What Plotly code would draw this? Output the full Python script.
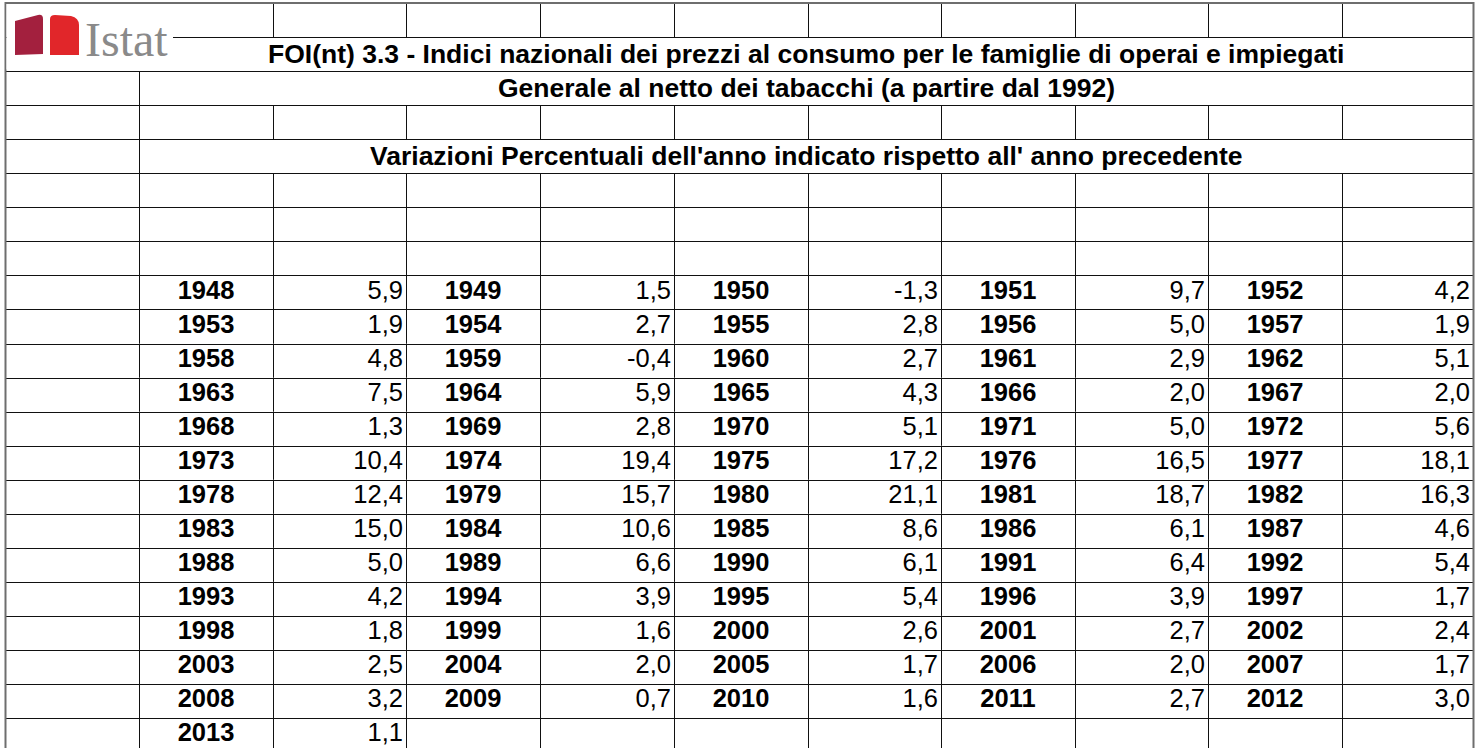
import plotly.graph_objects as go

# ---------------- data ----------------
years = list(range(1948, 2014))
values = [
    5.9, 1.5, -1.3, 9.7, 4.2,
    1.9, 2.7, 2.8, 5.0, 1.9,
    4.8, -0.4, 2.7, 2.9, 5.1,
    7.5, 5.9, 4.3, 2.0, 2.0,
    1.3, 2.8, 5.1, 5.0, 5.6,
    10.4, 19.4, 17.2, 16.5, 18.1,
    12.4, 15.7, 21.1, 18.7, 16.3,
    15.0, 10.6, 8.6, 6.1, 4.6,
    5.0, 6.6, 6.1, 6.4, 5.4,
    4.2, 3.9, 5.4, 3.9, 1.7,
    1.8, 1.6, 2.6, 2.7, 2.4,
    2.5, 2.0, 1.7, 2.0, 1.7,
    3.2, 0.7, 1.6, 2.7, 3.0,
    1.1,
]
title1 = "FOI(nt) 3.3 - Indici nazionali dei prezzi al consumo per le famiglie di operai e impiegati"
title2 = "Generale al netto dei tabacchi (a partire dal 1992)"
title3 = "Variazioni Percentuali dell'anno indicato rispetto all' anno precedente"
logo_text = "Istat"

# ---------------- layout geometry (pixels) ----------------
W, H = 1478, 748
col_x = [5, 139, 273, 406, 540, 674, 808, 941, 1075, 1208, 1342, 1473]
row_h = 34.05
n_rows = 22
row_y = [3 + row_h * k for k in range(n_rows + 1)]
first_data_row = 8
per_row = 5
FONT = "Liberation Sans, Arial, sans-serif"
FS = 25.5
FS_T = 26.5

fig = go.Figure()

# ---------------- grid lines ----------------
lx, ly = [], []
def seg(x0, y0, x1, y1):
    lx.extend([x0, x1, None]); ly.extend([y0, y1, None])

for r in range(n_rows):
    y0, y1 = row_y[r], min(row_y[r + 1], H)
    if r == 0:
        inner = range(2, 11)
    elif r == 1:
        inner = []
    elif r in (2, 4):
        inner = [1]
    else:
        inner = range(1, 11)
    for c in inner:
        seg(col_x[c] + 0.5, y0, col_x[c] + 0.5, y1)
for k in range(1, n_rows):
    y = round(row_y[k]) + 0.5
    seg(col_x[0], y, col_x[-1], y)

fig.add_trace(go.Scatter(x=lx, y=ly, mode="lines", line=dict(color="#111111", width=1),
                         hoverinfo="skip", showlegend=False))

# outer border
fig.add_shape(type="rect", x0=col_x[0] + 0.5, x1=col_x[-1] + 0.5, y0=row_y[0], y1=H + 5,
              line=dict(color="#6e6e6e", width=2), fillcolor="rgba(0,0,0,0)", layer="above")

# ---------------- logo ----------------
fig.add_shape(type="rect", x0=6.5, x1=173, y0=4, y1=row_y[2] - 1.5,
              line=dict(width=0), fillcolor="white", layer="above")
fig.add_shape(type="path", path="M 15,21 L 38,15 Q 43,14 43,19 L 43,54 L 15,55 Z",
              fillcolor="#A3203E", line=dict(width=0), layer="above")
fig.add_shape(type="path", path="M 50,19 Q 50,15 55,15 L 71,16 Q 79,18 79,25 L 79,55 L 50,55 Z",
              fillcolor="#E1262A", line=dict(width=0), layer="above")
fig.add_annotation(x=126, y=39, text=logo_text, showarrow=False, xanchor="center", yanchor="middle",
                   font=dict(family="Liberation Serif, Times New Roman, serif", size=48, color="#8a8a8a"))

# ---------------- titles ----------------
title_cx = (col_x[1] + col_x[-1]) / 2
for r, t in [(1, title1), (2, title2), (4, title3)]:
    fig.add_annotation(x=title_cx, y=(row_y[r] + row_y[r + 1]) / 2, text="<b>" + t + "</b>",
                       showarrow=False, xanchor="center", yanchor="middle",
                       font=dict(family=FONT, size=FS_T, color="black"))

# ---------------- data cells ----------------
yr_x, yr_y, yr_t = [], [], []
v_x, v_y, v_t = [], [], []
for i, (yr, v) in enumerate(zip(years, values)):
    r = first_data_row + i // per_row
    c = 1 + 2 * (i % per_row)
    cy = (row_y[r] + row_y[r + 1]) / 2
    yr_x.append((col_x[c] + col_x[c + 1]) / 2); yr_y.append(cy); yr_t.append("<b>%d</b>" % yr)
    v_x.append(col_x[c + 2] - 3); v_y.append(cy)
    v_t.append(("%.1f" % v).replace(".", ","))

fig.add_trace(go.Scatter(x=yr_x, y=yr_y, text=yr_t, mode="text", textposition="middle center",
                         textfont=dict(family=FONT, size=FS, color="black"),
                         hoverinfo="skip", showlegend=False, cliponaxis=False))
fig.add_trace(go.Scatter(x=v_x, y=v_y, text=v_t, mode="text", textposition="middle left",
                         textfont=dict(family=FONT, size=FS, color="black"),
                         hoverinfo="skip", showlegend=False, cliponaxis=False))

fig.update_layout(
    width=W, height=H, margin=dict(l=0, r=0, t=0, b=0),
    paper_bgcolor="white", plot_bgcolor="white",
    xaxis=dict(range=[0, W], visible=False, fixedrange=True),
    yaxis=dict(range=[H, 0], visible=False, fixedrange=True),
    showlegend=False,
)

fig.write_html("out.html", config={"displayModeBar": False},
               post_script="document.body.style.margin='0';document.body.style.overflow='hidden';")
